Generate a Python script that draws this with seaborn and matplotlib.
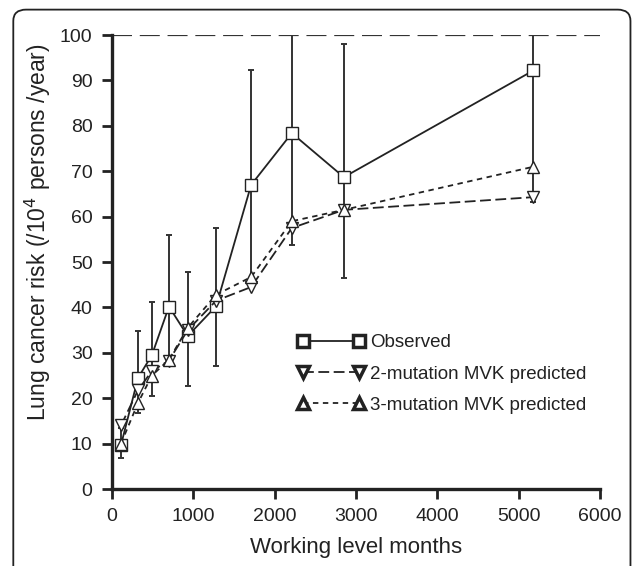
import numpy as np
import pandas as pd
import seaborn as sns
from matplotlib import pyplot as plt
from matplotlib.lines import Line2D
from matplotlib.patches import FancyBboxPatch

# working level months
wlm = [110, 320, 490, 700, 930, 1280, 1710, 2210, 2850, 5180]
observed = [9.7, 24.5, 29.5, 40.2, 33.7, 40.3, 67.0, 78.4, 68.7, 92.2]
obs_low = [6.8, 16.7, 20.5, 27.5, 22.7, 27.2, 46.5, 53.7, 46.5, 63.3]
obs_high = [13.5, 34.8, 41.2, 56.0, 47.8, 57.5, 92.3, 105.0, 98.0, 121.0]
mvk2 = [14.0, 21.8, 26.0, 28.3, 35.0, 41.5, 44.5, 57.5, 61.5, 64.3]
mvk3 = [10.0, 19.0, 25.0, 28.5, 35.5, 42.8, 46.7, 59.0, 61.5, 71.0]
series_names = ["Observed", "2-mutation MVK predicted", "3-mutation MVK predicted"]

df = pd.DataFrame({
    "wlm": wlm * 3,
    "risk": observed + mvk2 + mvk3,
    "series": np.repeat(series_names, len(wlm)),
})

sns.set_style("ticks")
plt.rcParams['font.family'] = ['Liberation Sans', 'DejaVu Sans']

ink = "#222222"
fig = plt.figure(figsize=(6.33, 5.66), dpi=100)
ax = fig.add_axes([0.177, 0.136, 0.771, 0.802])

# error bars of observed
yerr = [np.array(observed) - np.array(obs_low), np.array(obs_high) - np.array(observed)]
ax.errorbar(wlm, observed, yerr=yerr, fmt="none", ecolor="#333333",
            elinewidth=1.4, capsize=2, capthick=1.4, zorder=2)

sns.lineplot(data=df, x="wlm", y="risk", hue="series", style="series",
             palette={n: ink for n in series_names},
             markers={series_names[0]: "s", series_names[1]: "v", series_names[2]: "^"},
             dashes={series_names[0]: "", series_names[1]: (6, 2.5), series_names[2]: (3, 2.5)},
             markersize=9, markerfacecolor="white", markeredgecolor=ink,
             markeredgewidth=1.0, linewidth=1.3, legend=False, ax=ax, zorder=3)

ax.axhline(100, color="#333333", linewidth=1.6, dashes=(9, 3.5), zorder=1)

ax.set_xlim(0, 6000)
ax.set_ylim(0, 100)
ax.set_xticks(range(0, 6001, 1000))
ax.set_yticks(range(0, 101, 10))
ax.tick_params(axis="both", labelsize=14, width=2, length=7, pad=7, color=ink, labelcolor=ink)
for s in ["top", "right"]:
    ax.spines[s].set_visible(False)
for s in ["left", "bottom"]:
    ax.spines[s].set_linewidth(2.4)
    ax.spines[s].set_color(ink)

ax.set_xlabel("Working level months", fontsize=16, color=ink)
ax.set_ylabel("Lung cancer risk (/10$^4$ persons /year)", fontsize=16.5, color=ink)
ax.xaxis.set_label_coords(0.5, -0.105)
ax.yaxis.set_label_coords(-0.12, 0.565)

handles = [
    Line2D([], [], color=ink, marker="s", linestyle="-", markersize=8,
           markerfacecolor="white", markeredgewidth=2.5, linewidth=1.3),
    Line2D([], [], color=ink, marker="v", dashes=(6, 2.5), markersize=8,
           markerfacecolor="white", markeredgewidth=2.5, linewidth=1.3),
    Line2D([], [], color=ink, marker="^", dashes=(3, 2.5), markersize=8,
           markerfacecolor="white", markeredgewidth=2.5, linewidth=1.3),
]
ax.legend(handles, series_names, loc="upper left", bbox_to_anchor=(0.345, 0.378),
          frameon=False, numpoints=2, handlelength=3.6, fontsize=13.5,
          labelspacing=0.75, handletextpad=0.3, labelcolor=ink)

frame = FancyBboxPatch((0.021, -0.2), 0.975, 1.183, boxstyle="round,pad=0,rounding_size=0.02",
                       transform=fig.transFigure, facecolor="none", edgecolor=ink,
                       linewidth=1.3, clip_on=False)
fig.patches.append(frame)

fig.savefig("out.png", dpi=100)
